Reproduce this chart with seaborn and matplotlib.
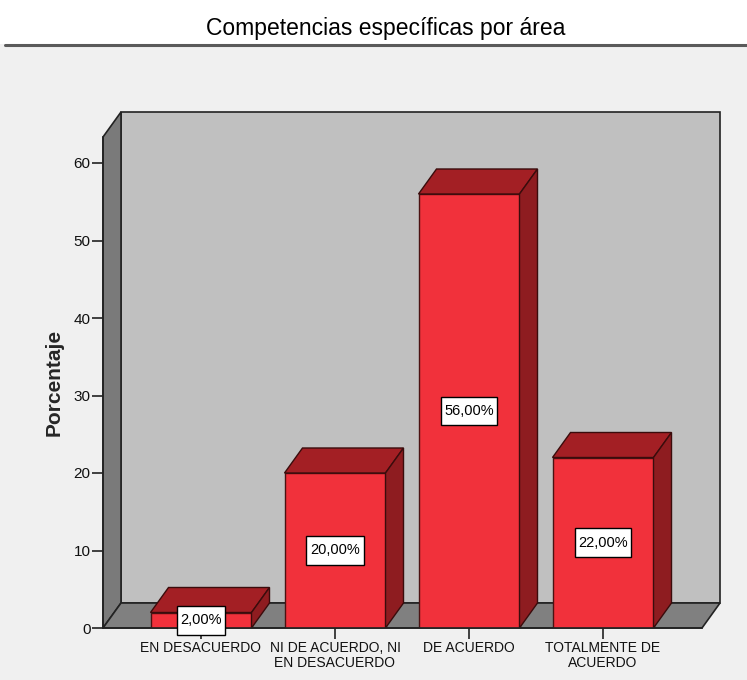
import matplotlib
matplotlib.use("Agg")
import matplotlib.pyplot as plt
from matplotlib.patches import Polygon, Rectangle
from matplotlib.path import Path
import seaborn as sns
import pandas as pd

categories = ["EN DESACUERDO", "NI DE ACUERDO, NI\nEN DESACUERDO",
              "DE ACUERDO", "TOTALMENTE DE\nACUERDO"]
values = [2.0, 20.0, 56.0, 22.0]
value_labels = ["2,00%", "20,00%", "56,00%", "22,00%"]
y_ticks = [0, 10, 20, 30, 40, 50, 60]

df = pd.DataFrame({"categoria": categories, "porcentaje": values})

sns.set_theme(style="white")
plt.rcParams["font.family"] = ["Liberation Sans", "DejaVu Sans"]

W, H = 747, 680
fig = plt.figure(figsize=(W / 100, H / 100), dpi=100)
fig.patch.set_facecolor("#f0f0f0")

# title band with its rule underneath
fig.patches.append(Rectangle((0, 1 - 44 / H), 1, 44 / H, transform=fig.transFigure,
                             facecolor="white", edgecolor="none", zorder=0))
fig.lines.append(plt.Line2D([5 / W, 1], [1 - 45 / H, 1 - 45 / H], transform=fig.transFigure,
                            color="#5a5a5a", linewidth=2.2))
fig.text(386 / W, 1 - 28 / H, "Competencias específicas por área", ha="center", va="center",
         fontsize=16.5, color="black")

# axes box: front-left corner at pixel (103, 628), back wall reaches (720, 112)
left_px, right_px, bot_px, top_px = 103, 720, 628, 112
ax = fig.add_axes([left_px / W, (H - bot_px) / H, (right_px - left_px) / W, (bot_px - top_px) / H])
ax.set_facecolor("none")

step_px = 134.0
unit_px = 7.75
x0 = -(201 - 103) / step_px
x1 = x0 + (right_px - left_px) / step_px
y_top = (bot_px - top_px) / unit_px
DX = 18 / step_px
DY = 25 / unit_px
front_top = y_top - DY
floor_right = x1 - DX

ax.set_xlim(x0, x1)
ax.set_ylim(0, y_top)

edge = "#222222"
# back wall
ax.add_patch(Polygon([(x0 + DX, DY), (x1, DY), (x1, y_top), (x0 + DX, y_top)],
                     closed=True, facecolor="#c0c0c0", edgecolor=edge, linewidth=1.2,
                     zorder=0, clip_on=False))
# left wall
ax.add_patch(Polygon([(x0, 0), (x0, front_top), (x0 + DX, y_top), (x0 + DX, DY)],
                     closed=True, facecolor="#7a7a7a", edgecolor=edge, linewidth=1.2,
                     zorder=0.5, clip_on=False))
# floor
ax.add_patch(Polygon([(x0, 0), (floor_right, 0), (x1, DY), (x0 + DX, DY)],
                     closed=True, facecolor="#808080", edgecolor=edge, linewidth=1.2,
                     zorder=0.5, clip_on=False))

bar_w = 101 / step_px
sns.barplot(data=df, x="categoria", y="porcentaje", order=categories, color="#f1313b",
            saturation=1, width=bar_w, edgecolor="#4a1212", linewidth=1.0, ax=ax, zorder=3)


def label_box(x0b, y0b, width, height, mutation_size):
    # rectangle with more vertical than horizontal padding
    px, py = 0.25 * mutation_size, 0.5 * mutation_size
    xa, xb = x0b - px, x0b + width + px
    ya, yb = y0b - py, y0b + height + py
    return Path([(xa, ya), (xb, ya), (xb, yb), (xa, yb), (xa, ya)], closed=True)


for i, v in enumerate(values):
    xl, xr = i - bar_w / 2, i + bar_w / 2
    ax.add_patch(Polygon([(xl, v), (xr, v), (xr + DX, v + DY), (xl + DX, v + DY)],
                         closed=True, facecolor="#a31f24", edgecolor="#3a0c0c",
                         linewidth=1.0, zorder=3))
    ax.add_patch(Polygon([(xr, 0), (xr, v), (xr + DX, v + DY), (xr + DX, DY)],
                         closed=True, facecolor="#8e1c20", edgecolor="#3a0c0c",
                         linewidth=1.0, zorder=3))
    ax.text(i, v / 2, value_labels[i], ha="center", va="center", fontsize=10.5,
            color="black", zorder=5,
            bbox=dict(boxstyle=label_box, facecolor="white", edgecolor="black",
                      linewidth=1.0))

ax.set_xlim(x0, x1)
ax.set_ylim(0, y_top)
for s in ["top", "right"]:
    ax.spines[s].set_visible(False)
ax.spines["left"].set_bounds(0, front_top)
ax.spines["bottom"].set_bounds(x0, floor_right)
for s in ["left", "bottom"]:
    ax.spines[s].set_color(edge)
    ax.spines[s].set_linewidth(1.2)
    ax.spines[s].set_zorder(4)

ax.set_yticks(y_ticks)
ax.set_yticklabels([str(t) for t in y_ticks])
ax.set_xticks(range(len(categories)))
ax.set_xticklabels(categories, linespacing=1.15)
ax.tick_params(axis="both", direction="out", length=8, width=1.2, color=edge,
               labelcolor="#111111", pad=1, left=True, bottom=True)
ax.tick_params(axis="y", labelsize=11)
ax.tick_params(axis="x", labelsize=10)
ax.set_xlabel("")
ax.set_ylabel("Porcentaje", fontsize=15, fontweight="bold")
ax.yaxis.set_label_coords(-0.064, 0.475)

fig.savefig("out.png", dpi=100, facecolor=fig.get_facecolor())
